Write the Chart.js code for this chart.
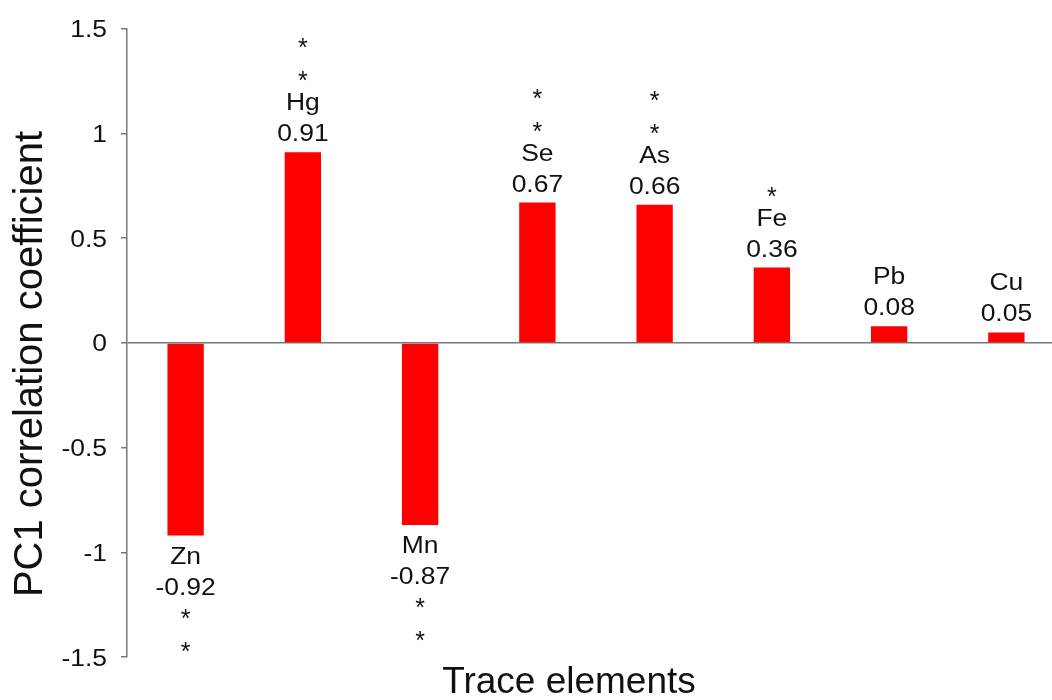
<!DOCTYPE html>
<html>
<head>
<meta charset="utf-8">
<script src="https://cdn.jsdelivr.net/npm/chart.js@4"></script>
<style>
html,body{margin:0;padding:0;background:#fff;overflow:hidden;}
#wrap{width:1066px;height:700px;}
</style>
</head>
<body>
<div id="wrap"><canvas id="pcChart" width="1066" height="700"></canvas></div>
<script>
const elements = ["Zn","Hg","Mn","Se","As","Fe","Pb","Cu"];
const coeffs = [-0.92,0.91,-0.87,0.67,0.66,0.36,0.08,0.05];
const stars = [2,2,2,2,2,1,0,0];
const yTicks = [-1.5,-1,-0.5,0,0.5,1,1.5];

const FONT = "Liberation Sans, Arial, sans-serif";
const STRETCH = 1.15; // the original text is a bit wider than Arial

function wideText(ctx, txt, x, y, align){
  ctx.save();
  ctx.translate(x, y);
  ctx.scale(STRETCH, 1);
  ctx.textAlign = align;
  ctx.fillText(txt, 0, 0);
  ctx.restore();
}

/* labels + asterisks next to each bar, tick labels, axis titles */
const barLabels = {
  id:"barLabels",
  afterDraw(chart){
    let ctx = chart.ctx;
    let meta = chart.getDatasetMeta(0);
    let ys = chart.scales.y;
    ctx.save();
    ctx.fillStyle = "#111";
    ctx.textBaseline = "alphabetic";

    meta.data.forEach((bar,i)=>{
      let v = coeffs[i];
      let x = bar.x;
      let nameY, valY, starYs = [];
      if(v >= 0){
        valY = bar.y - 11;
        nameY = valY - 31;
        for(let k=0;k<stars[i];k++) starYs.push(nameY - 34 - 33*k);
      } else {
        nameY = bar.y + 28;
        valY = nameY + 31;
        for(let k=0;k<stars[i];k++) starYs.push(valY + 19 + 33*k);
      }
      ctx.font = "23px " + FONT;
      wideText(ctx, elements[i], x, nameY, "center");
      wideText(ctx, v.toFixed(2), x, valY, "center");
      ctx.font = "25px " + FONT;
      ctx.textAlign = "center";
      let m = ctx.measureText("*");
      let off = (m.actualBoundingBoxAscent - m.actualBoundingBoxDescent)/2;
      starYs.forEach(cy=>ctx.fillText("*", x, cy + off));
    });

    // y tick labels
    ctx.font = "23px " + FONT;
    let m0 = ctx.measureText("0");
    let offT = (m0.actualBoundingBoxAscent - m0.actualBoundingBoxDescent)/2;
    ys.ticks.forEach(t=>{
      wideText(ctx, String(t.value), ys.right - 20, ys.getPixelForValue(t.value) + offT, "right");
    });

    // axis titles
    ctx.textAlign = "center";
    ctx.font = "40px " + FONT;
    ctx.save();
    ctx.translate(42, 364);
    ctx.rotate(-Math.PI/2);
    ctx.fillText("PC1 correlation coefficient", 0, 0);
    ctx.restore();
    ctx.font = "37px " + FONT;
    ctx.fillText("Trace elements", 569, 693);
    ctx.restore();
  }
};

new Chart(document.getElementById("pcChart"),{
  type:"bar",
  data:{
    labels:elements,
    datasets:[{
      data:coeffs,
      backgroundColor:"#ff0000",
      borderWidth:0,
      barPercentage:0.31,
      categoryPercentage:1
    }]
  },
  options:{
    responsive:false,
    animation:false,
    layout:{padding:{left:0,right:1,top:25,bottom:43}},
    plugins:{legend:{display:false},tooltip:{enabled:false}},
    scales:{
      x:{display:false},
      y:{
        min:-1.5,
        max:1.5,
        afterFit(s){ s.width = 127; },
        afterBuildTicks(s){ s.ticks = yTicks.map(v=>({value:v})); },
        ticks:{
          callback:v=>String(v),
          color:"rgba(0,0,0,0)",
          padding:15,
          font:{family:FONT,size:23}
        },
        grid:{
          color:c=>c.tick && c.tick.value===0 ? "#777" : "rgba(0,0,0,0)",
          tickColor:"#777",
          tickLength:6,
          lineWidth:1.5
        },
        border:{color:"#777",width:1.5}
      }
    }
  },
  plugins:[barLabels]
});
</script>
</body>
</html>
